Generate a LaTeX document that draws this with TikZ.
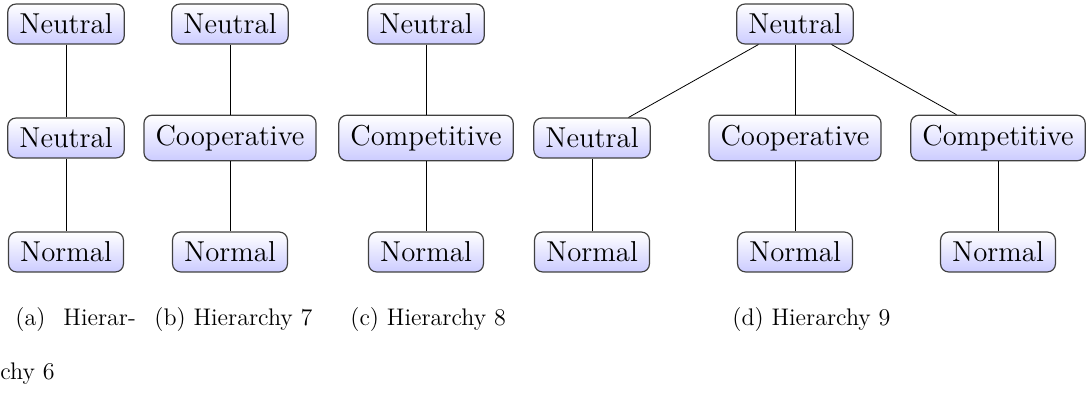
\documentclass[tikz,border=0pt]{standalone}
\usepackage{tikz}
\usetikzlibrary{positioning}

\begin{document}
\begin{tikzpicture}[x=0.5pt, y=-0.5pt,
  h/.style={rectangle, rounded corners, draw=black!75, line width=0.6pt,
            top color=white, bottom color=blue!20, font=\Large,
            inner xsep=5.8pt, inner ysep=4.9pt},
  subcap/.style={anchor=base west, inner sep=0pt, font=\large},
  e/.style={draw=black, line width=0.4pt}]
  \useasboundingbox (0,0) rectangle (1091,394);
  % (a)
  \node[h] (a1) at (66,24) {Neutral};
  \node[h] (a2) at (66,138) {Neutral};
  \node[h] (a3) at (66,252) {Normal};
  \draw[e] (a1) -- (a2);
  \draw[e] (a2) -- (a3);
  % (b)
  \node[h] (b1) at (230,24) {Neutral};
  \node[h] (b2) at (230,138) {Cooperative};
  \node[h] (b3) at (230,252) {Normal};
  \draw[e] (b1) -- (b2);
  \draw[e] (b2) -- (b3);
  % (c)
  \node[h] (c1) at (426,24) {Neutral};
  \node[h] (c2) at (426,138) {Competitive};
  \node[h] (c3) at (426,252) {Normal};
  \draw[e] (c1) -- (c2);
  \draw[e] (c2) -- (c3);
  % (d)
  \node[h] (d0) at (795,24) {Neutral};
  \node[h] (d1) at (592,138) {Neutral};
  \node[h] (d2) at (795,138) {Cooperative};
  \node[h] (d3) at (998,138) {Competitive};
  \node[h] (d4) at (592,252) {Normal};
  \node[h] (d5) at (795,252) {Normal};
  \node[h] (d6) at (998,252) {Normal};
  \draw[e] (d0) -- (d1);
  \draw[e] (d0) -- (d2);
  \draw[e] (d0) -- (d3);
  \draw[e] (d1) -- (d4);
  \draw[e] (d2) -- (d5);
  \draw[e] (d3) -- (d6);
  % captions
  \node[subcap] (capa) at (15,326) {(a)\hspace{9pt}Hierar-};
  \node[subcap] (capa2) at (0,380) {chy 6};
  \node[subcap] (capb) at (154,326) {(b) Hierarchy 7};
  \node[subcap] (capc) at (350,326) {(c) Hierarchy 8};
  \node[subcap] (capd) at (732,326) {(d) Hierarchy 9};
\end{tikzpicture}
\end{document}
